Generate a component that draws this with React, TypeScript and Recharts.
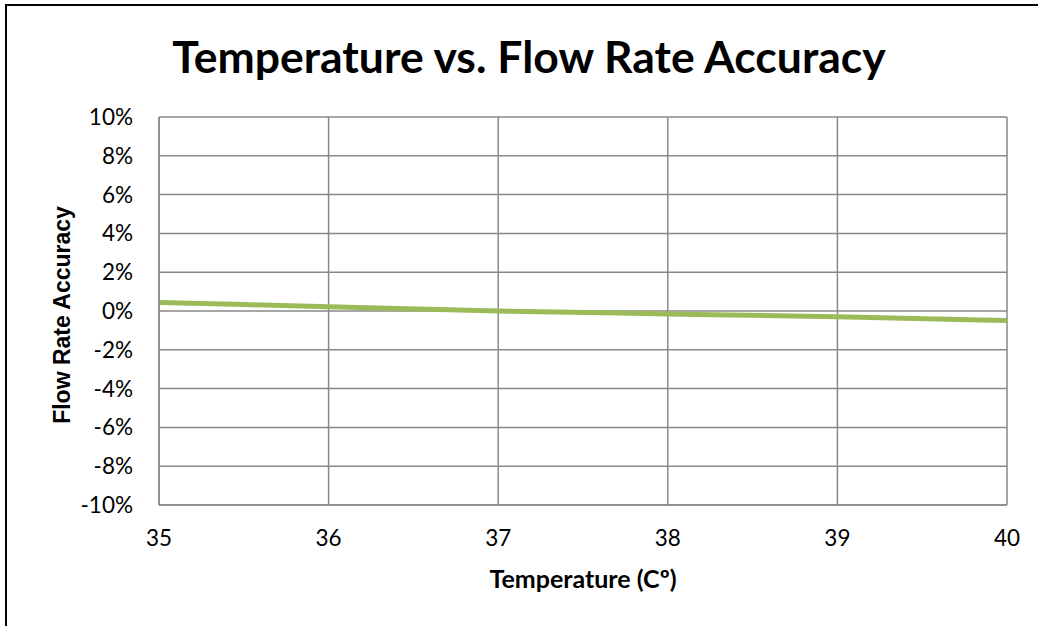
import { LineChart, Line, XAxis, YAxis, CartesianGrid } from 'recharts';

const temperatures = [35, 36, 37, 38, 39, 40];
const accuracy = [0.0044, 0.0022, 0.0, -0.0015, -0.003, -0.0049];
const yTicks = [-0.1, -0.08, -0.06, -0.04, -0.02, 0, 0.02, 0.04, 0.06, 0.08, 0.1];

const data = temperatures.map((t, i) => ({ temp: t, acc: accuracy[i] }));

const font = 'Lato, "Open Sans", sans-serif';

export default function App() {
  return (
    <div style={{ position: 'absolute', left: 0, top: 0, width: 1038, height: 626, overflow: 'hidden', background: '#fff', fontFamily: font }}>
      <div style={{ position: 'absolute', left: 5, top: 4, width: 1060, height: 660, border: '2px solid #000' }} />
      <div style={{ position: 'absolute', left: 29, width: 1000, top: 26, lineHeight: '60px', textAlign: 'center', fontSize: 44.5, fontWeight: 700, color: '#000' }}>
        Temperature vs. Flow Rate Accuracy
      </div>
      <div style={{ position: 'absolute', left: 0, top: 0 }}>
        <LineChart width={1038} height={626} data={data} margin={{ top: 117, right: 31, bottom: 81, left: 89 }}>
          <CartesianGrid stroke="#898989" strokeWidth={1.5} horizontalValues={yTicks} verticalValues={temperatures} />
          <XAxis
            dataKey="temp"
            type="number"
            domain={[35, 40]}
            ticks={temperatures}
            axisLine={{ stroke: '#898989', strokeWidth: 1.5 }}
            tickLine={false}
            tickMargin={19}
            height={40}
            tick={{ fill: '#000', fontSize: 22.5, fontFamily: font }}
            label={{ value: 'Temperature (Cº)', position: 'insideBottom', offset: -43, fill: '#000', fontSize: 25, fontWeight: 700, fontFamily: font }}
          />
          <YAxis
            type="number"
            domain={[-0.1, 0.1]}
            ticks={yTicks}
            tickFormatter={(v: number) => `${Math.round(v * 100)}%`}
            axisLine={{ stroke: '#898989', strokeWidth: 1.5 }}
            tickLine={false}
            tickMargin={20}
            width={70}
            tick={{ fill: '#000', fontSize: 22.5, fontFamily: font }}
            label={{ value: 'Flow Rate Accuracy', angle: -90, position: 'left', offset: 27, dy: 4, fill: '#000', fontSize: 23, fontWeight: 700, fontFamily: '"Liberation Sans", Arial, sans-serif', style: { textAnchor: 'middle' } }}
          />
          <Line type="monotone" dataKey="acc" stroke="#9BBB59" strokeWidth={5} dot={false} isAnimationActive={false} />
        </LineChart>
      </div>
    </div>
  );
}
